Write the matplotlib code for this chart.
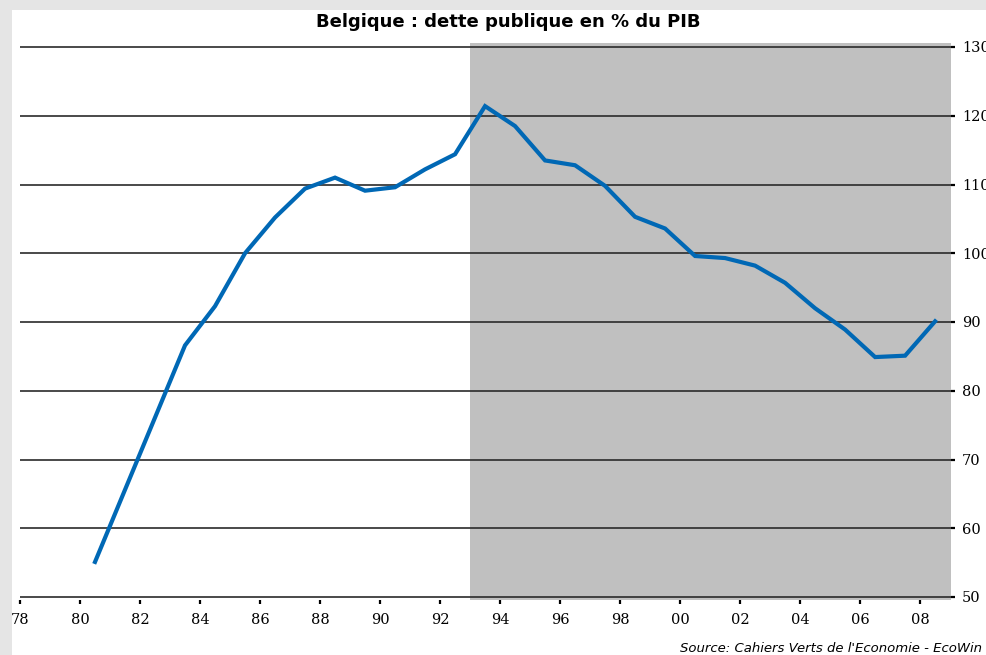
import matplotlib
matplotlib.use("Agg")
import matplotlib.pyplot as plt
from matplotlib.patches import Rectangle
import numpy as np

years = list(range(1980, 2009))
debt = [55.1, 65.6, 76.1, 86.6, 92.3, 100.0, 105.2, 109.4, 111.0, 109.1, 109.6,
        112.2, 114.4, 121.4, 118.5, 113.5, 112.8, 109.8, 105.3, 103.6, 99.6,
        99.3, 98.2, 95.7, 92.0, 88.9, 84.9, 85.1, 90.1]
shade_start = 1993
xtick_years = list(range(1978, 2009, 2))
xtick_labels = ["78", "80", "82", "84", "86", "88", "90", "92", "94", "96", "98",
                "00", "02", "04", "06", "08"]
yticks = [50, 60, 70, 80, 90, 100, 110, 120, 130]
title = "Belgique : dette publique en % du PIB"
source = "Source: Cahiers Verts de l'Economie - EcoWin"

W, H = 986, 655
fig = plt.figure(figsize=(W / 100, H / 100), dpi=100)
fig.patch.set_facecolor("white")

x0, x1 = 1978, 2009.03
y0, y1 = 49.5, 130.6
left_px, right_px = 20, 951
top_px = 47 - (y1 - 130) * 6.875
bot_px = 597 + (50 - y0) * 6.875
ax = fig.add_axes([left_px / W, 1 - bot_px / H, (right_px - left_px) / W, (bot_px - top_px) / H])
ax.set_xlim(x0, x1)
ax.set_ylim(y0, y1)
ax.set_facecolor("white")
for s in ax.spines.values():
    s.set_visible(False)

ax.axvspan(shade_start, x1, color="#c0c0c0", zorder=0, lw=0)
for yv in yticks:
    ax.axhline(yv, color="#2a2a2a", lw=1.2, zorder=1)

xs = np.array(years) + 0.5
ax.plot(xs, debt, color="#0068b5", lw=3.0, zorder=3, solid_joinstyle="miter")

serif = ["DejaVu Serif"]
ax.set_xticks(xtick_years)
ax.set_xticklabels(xtick_labels, family=serif, fontsize=10.5)
ax.tick_params(axis="x", direction="out", length=3, width=1.6, color="black", pad=6)

ax.yaxis.tick_right()
ax.set_yticks(yticks)
ax.set_yticklabels([str(v) for v in yticks], family=serif, fontsize=10.5)
ax.tick_params(axis="y", direction="out", length=3, width=1.6, color="black", pad=5)

fig.text(508 / W, 1 - 22 / H, title, ha="center", va="center",
         family=["DejaVu Sans"], fontweight="bold", fontsize=13)
fig.text(680 / W, 3 / H, source, ha="left", va="baseline",
         family=["DejaVu Sans"], style="italic", fontsize=9.5)

border = "#e5e5e5"
fig.add_artist(Rectangle((0, 1 - 10 / H), 1, 10 / H, transform=fig.transFigure,
                         facecolor=border, edgecolor="none", zorder=10))
fig.add_artist(Rectangle((0, 0), 12 / W, 1, transform=fig.transFigure,
                         facecolor=border, edgecolor="none", zorder=10))

fig.savefig("out.png", dpi=100)
